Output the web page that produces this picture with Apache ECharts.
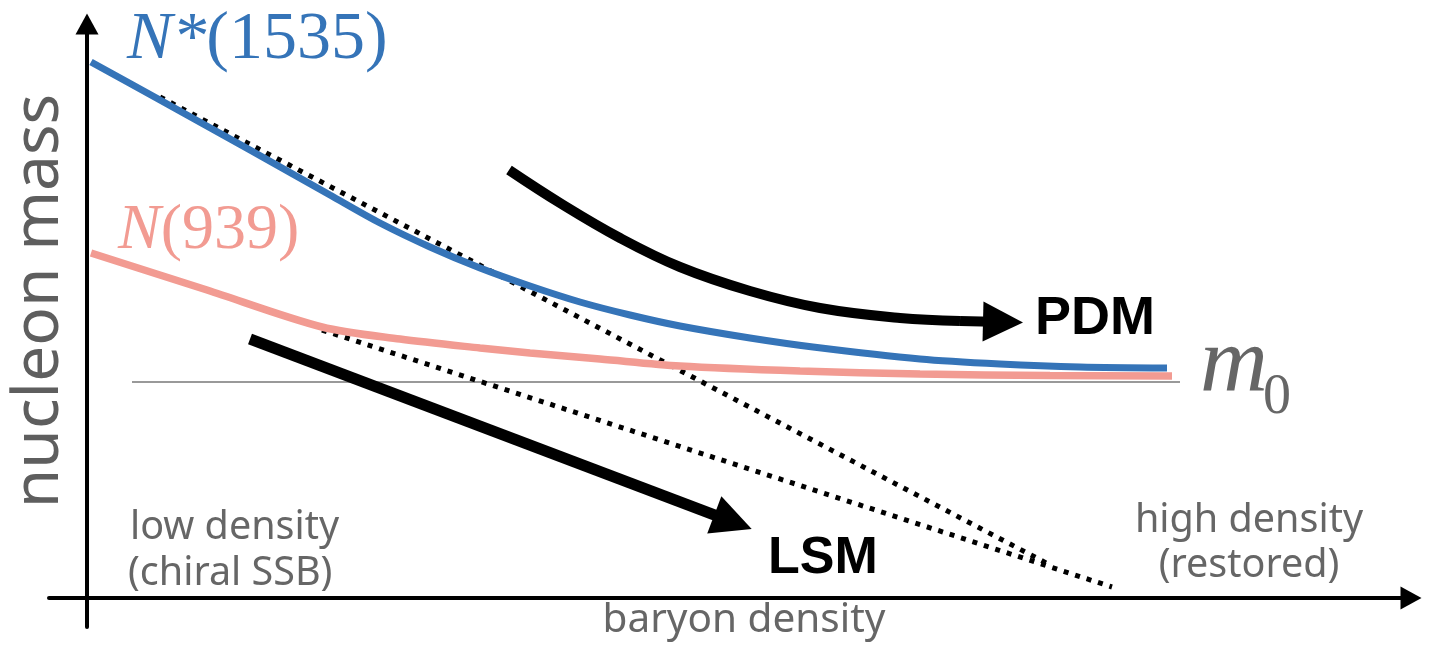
<!DOCTYPE html>
<html><head><meta charset="utf-8">
<script src="https://cdn.jsdelivr.net/npm/echarts@6/dist/echarts.min.js"></script>
<style>html,body{margin:0;padding:0;background:#fff}#c{width:1429px;height:646px}</style>
</head><body><div id="c"></div>
<script>
// Schematic: x = baryon density, y = nucleon mass (arbitrary units)
const nStar1535 = [[4,536],[73,498],[163,448],[243,403],[293,375],[343,351],[393,330],[443,312],[493,296],[543,283],[593,272],[663,260],[726,251],[833,239],[913,234],[993,231],[1080,230]];
const n939 = [[4,345],[120,308],[235,271],[313,259],[393,250],[443,245],[513,239],[593,232],[713,227],[833,224],[963,222.5],[1085,222]];
const m0Line = [[45,216],[1093,216]];
const lsmStar = [[73,501],[963,33]];
const lsmN = [[235,268],[1025,11]];
const pdmArrow = [[422,428],[473,395],[533,360],[593,331],[663,307],[733,290],[813,280],[873,277]];
const pdmHead = [[873,277],[916,276]];
const lsmArrow = [[163,259],[646,76]];
const xRange = [-38, 1324];
const yRange = [-29, 574];

const BLUE = '#3574b8', SALMON = '#f29b92', GRAY = '#666666';
const chart = echarts.init(document.getElementById('c'), null, {renderer:'canvas'});
const hiddenAxis = {
  type:'value', axisTick:{show:false}, axisLabel:{show:false}, splitLine:{show:false}
};
chart.setOption({
  animation:false,
  backgroundColor:'#fff',
  grid:{left:49, right:18, top:24, bottom:19},
  xAxis:Object.assign({}, hiddenAxis, {min:xRange[0], max:xRange[1],
    axisLine:{onZero:true, symbol:['none','triangle'], symbolSize:[23,21], lineStyle:{color:'#000', width:4}}}),
  yAxis:Object.assign({}, hiddenAxis, {min:yRange[0], max:yRange[1],
    axisLine:{onZero:true, symbol:['none','triangle'], symbolSize:[23,21], lineStyle:{color:'#000', width:4}}}),
  series:[
    {type:'line', data:m0Line, symbol:'none', lineStyle:{color:'#999', width:2}, z:1},
    {type:'line', data:lsmStar, symbol:'none', lineStyle:{color:'#000', width:5, type:[5,7], cap:'butt'}, z:2},
    {type:'line', data:lsmN, symbol:'none', lineStyle:{color:'#000', width:5, type:[5,7], cap:'butt'}, z:2},
    {type:'line', data:n939, symbol:'none', smooth:0.3, lineStyle:{color:SALMON, width:7.5, cap:'butt'}, z:3},
    {type:'line', data:nStar1535, symbol:'none', smooth:0.3, lineStyle:{color:BLUE, width:7, cap:'butt'}, z:4},
    {type:'line', data:pdmArrow, symbol:'none', smooth:0.4, lineStyle:{color:'#000', width:10, cap:'butt'}, z:5},
    {type:'lines', coordinateSystem:'cartesian2d', polyline:false, symbol:['none','triangle'], symbolSize:40,
      data:[{coords:pdmHead}], lineStyle:{color:'#000', width:10, opacity:1, curveness:0}, z:5},
    {type:'lines', coordinateSystem:'cartesian2d', polyline:false, symbol:['none','triangle'], symbolSize:40,
      data:[{coords:lsmArrow}], lineStyle:{color:'#000', width:11, opacity:1, curveness:0}, z:5}
  ],
  graphic:[
    {type:'text', x:127, y:40, style:{text:'{i|N*}(1535)', fontSize:68, fontFamily:'Liberation Serif', fill:BLUE,
      textAlign:'left', textVerticalAlign:'middle',
      rich:{i:{fontStyle:'italic', fontSize:68, fontFamily:'Liberation Serif', fill:BLUE}}}},
    {type:'text', x:118, y:231, style:{text:'{i|N}(939)', fontSize:64, fontFamily:'Liberation Serif', fill:SALMON,
      textAlign:'left', textVerticalAlign:'middle',
      rich:{i:{fontStyle:'italic', fontSize:64, fontFamily:'Liberation Serif', fill:SALMON}}}},
    {type:'text', x:1200, y:366, style:{text:'m', fontSize:94, fontStyle:'italic', fontFamily:'Liberation Serif', fill:GRAY,
      textAlign:'left', textVerticalAlign:'middle'}},
    {type:'text', x:1263, y:398, style:{text:'0', fontSize:56, fontFamily:'Liberation Serif', fill:GRAY,
      textAlign:'left', textVerticalAlign:'middle'}},
    {type:'text', x:1035, y:319, style:{text:'PDM', fontSize:54, fontWeight:'bold', fontFamily:'Liberation Sans', fill:'#000',
      textAlign:'left', textVerticalAlign:'middle'}},
    {type:'text', x:768, y:559, style:{text:'LSM', fontSize:52, fontWeight:'bold', fontFamily:'Liberation Sans', fill:'#000',
      textAlign:'left', textVerticalAlign:'middle'}},
    {type:'text', x:40, y:301, rotation:Math.PI/2, style:{text:'nucleon mass', fontSize:64, fontFamily:'Noto Sans', fill:'#5e5e5e',
      textAlign:'center', textVerticalAlign:'middle'}},
    {type:'text', x:130, y:528, style:{text:'low density', fontSize:39.5, fontFamily:'Noto Sans', fill:GRAY,
      textAlign:'left', textVerticalAlign:'middle'}},
    {type:'text', x:128, y:574, style:{text:'(chiral SSB)', fontSize:39.5, fontFamily:'Noto Sans', fill:GRAY,
      textAlign:'left', textVerticalAlign:'middle'}},
    {type:'text', x:1249, y:521, style:{text:'high density', fontSize:39.5, fontFamily:'Noto Sans', fill:GRAY,
      textAlign:'center', textVerticalAlign:'middle'}},
    {type:'text', x:1249, y:566, style:{text:'(restored)', fontSize:39.5, fontFamily:'Noto Sans', fill:GRAY,
      textAlign:'center', textVerticalAlign:'middle'}},
    {type:'text', x:744, y:620, style:{text:'baryon density', fontSize:40.5, fontFamily:'Noto Sans', fill:GRAY,
      textAlign:'center', textVerticalAlign:'middle'}}
  ]
});
</script></body></html>
